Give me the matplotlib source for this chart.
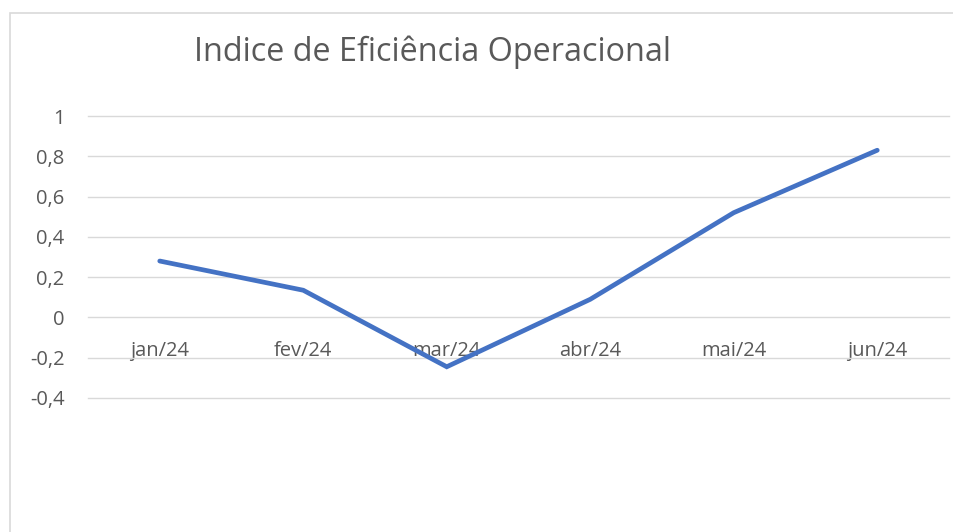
import matplotlib
matplotlib.use("Agg")
import matplotlib.pyplot as plt
from matplotlib.patches import Rectangle
from matplotlib.ticker import FixedLocator, FuncFormatter

months = ["jan/24", "fev/24", "mar/24", "abr/24", "mai/24", "jun/24"]
values = [0.28, 0.135, -0.245, 0.09, 0.52, 0.83]
yticks = [-0.4, -0.2, 0, 0.2, 0.4, 0.6, 0.8, 1]
title = "Indice de Eficiência Operacional"

W, H = 954, 532
plt.rcParams['font.family'] = ['Open Sans', 'DejaVu Sans']
fig = plt.figure(figsize=(W / 100, H / 100), dpi=100)
fig.patch.set_facecolor('white')

# chart border (extends beyond right/bottom)
fig.patches.append(Rectangle((10 / W, -0.1), 1.2, 1 - 13 / H + 0.1, transform=fig.transFigure,
                             facecolor='none', edgecolor='#D9D9D9', linewidth=1.2))

ax = fig.add_axes([88 / W, 1 - 398 / H, (949 - 88) / W, (398 - 116) / H])
x = list(range(len(months)))
ax.plot(x, values, color='#4472C4', linewidth=3.4, solid_capstyle='round', solid_joinstyle='miter', zorder=3)

ax.set_xlim(-0.5, len(months) - 0.5)
ax.set_ylim(-0.4, 1.0)
ax.yaxis.set_major_locator(FixedLocator(yticks))
ax.yaxis.set_major_formatter(FuncFormatter(lambda v, p: ('%g' % round(v, 1)).replace('.', ',')))
ax.grid(axis='y', color='#D9D9D9', linewidth=1.0)
for gl in ax.get_ygridlines():
    gl.set_clip_on(False)
ax.set_axisbelow(True)
for s in ax.spines.values():
    s.set_visible(False)
ax.spines['bottom'].set_position(('data', 0))
ax.set_xticks(x)
ax.set_xticklabels(months)
ax.tick_params(axis='x', length=0, pad=17, labelsize=14.5, labelcolor='#595959')
ax.tick_params(axis='y', length=0, pad=17, labelsize=14.5, labelcolor='#595959')
for lbl in ax.get_yticklabels():
    lbl.set_horizontalalignment('right')

fig.text(433 / W, 1 - 52 / H, title, ha='center', va='center', fontsize=23.3, color='#595959')

fig.savefig('out.png', dpi=100, facecolor='white')
